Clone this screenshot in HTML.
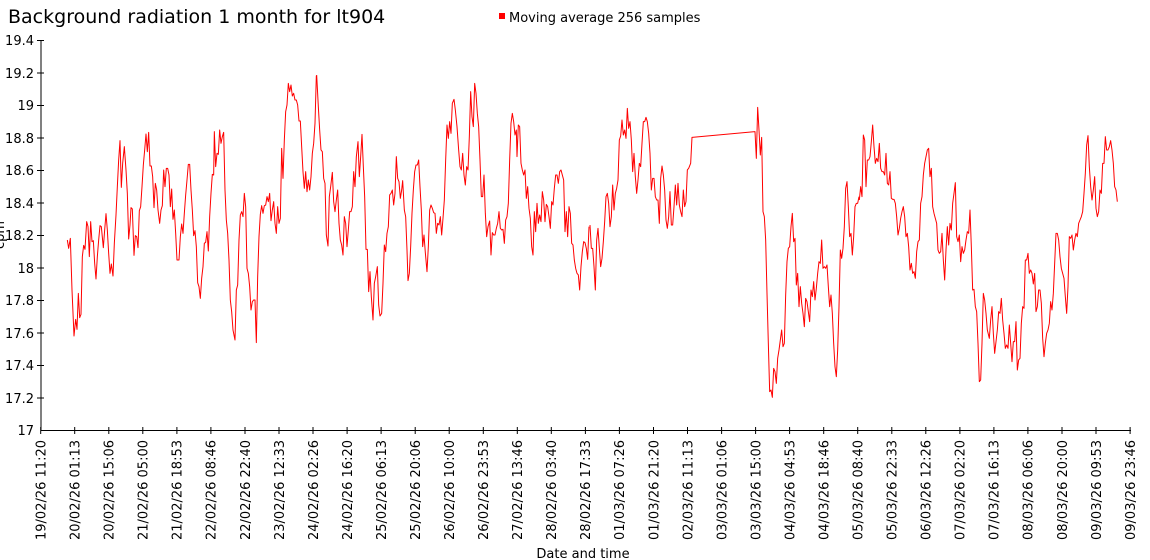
<!DOCTYPE html>
<html><head><meta charset="utf-8"><style>
html,body{margin:0;padding:0;background:#fff;}
svg{display:block;font-family:"DejaVu Sans","Liberation Sans",sans-serif;}
</style></head><body>
<svg width="1150" height="560" viewBox="0 0 1150 560" xmlns="http://www.w3.org/2000/svg">
<text x="8" y="23" font-size="19" fill="#000">Background radiation 1 month for lt904</text>
<rect x="499" y="13" width="6" height="6" fill="#f00"/>
<text x="509" y="22" font-size="13" fill="#000">Moving average 256 samples</text>
<text transform="translate(4,235) rotate(-90)" font-size="13" text-anchor="middle">cpm</text>
<g stroke="#000" stroke-width="1" fill="none">
<line x1="41" y1="40" x2="41" y2="430.5"/>
<line x1="40.5" y1="430.5" x2="1131" y2="430.5"/>
</g>
<g stroke="#000" stroke-width="1">
<line x1="37" x2="44" y1="40.5" y2="40.5"/><line x1="37" x2="44" y1="73" y2="73"/><line x1="37" x2="44" y1="105.5" y2="105.5"/><line x1="37" x2="44" y1="138" y2="138"/><line x1="37" x2="44" y1="170.5" y2="170.5"/><line x1="37" x2="44" y1="203" y2="203"/><line x1="37" x2="44" y1="235.5" y2="235.5"/><line x1="37" x2="44" y1="268" y2="268"/><line x1="37" x2="44" y1="300.5" y2="300.5"/><line x1="37" x2="44" y1="333" y2="333"/><line x1="37" x2="44" y1="365.5" y2="365.5"/><line x1="37" x2="44" y1="398" y2="398"/>
</g>
<g font-size="13" text-anchor="end" fill="#000">
<text x="34" y="45">19.4</text><text x="34" y="78">19.2</text><text x="34" y="110">19</text><text x="34" y="143">18.8</text><text x="34" y="175">18.6</text><text x="34" y="208">18.4</text><text x="34" y="240">18.2</text><text x="34" y="273">18</text><text x="34" y="305">17.8</text><text x="34" y="338">17.6</text><text x="34" y="370">17.4</text><text x="34" y="403">17.2</text><text x="34" y="435">17</text>
</g>
<g stroke="#000" stroke-width="1">
<line x1="40.7" x2="40.7" y1="427" y2="434"/><line x1="74.7" x2="74.7" y1="427" y2="434"/><line x1="108.8" x2="108.8" y1="427" y2="434"/><line x1="142.8" x2="142.8" y1="427" y2="434"/><line x1="176.9" x2="176.9" y1="427" y2="434"/><line x1="210.9" x2="210.9" y1="427" y2="434"/><line x1="245" x2="245" y1="427" y2="434"/><line x1="279" x2="279" y1="427" y2="434"/><line x1="313" x2="313" y1="427" y2="434"/><line x1="347.1" x2="347.1" y1="427" y2="434"/><line x1="381.1" x2="381.1" y1="427" y2="434"/><line x1="415.2" x2="415.2" y1="427" y2="434"/><line x1="449.2" x2="449.2" y1="427" y2="434"/><line x1="483.3" x2="483.3" y1="427" y2="434"/><line x1="517.3" x2="517.3" y1="427" y2="434"/><line x1="551.3" x2="551.3" y1="427" y2="434"/><line x1="585.4" x2="585.4" y1="427" y2="434"/><line x1="619.4" x2="619.4" y1="427" y2="434"/><line x1="653.5" x2="653.5" y1="427" y2="434"/><line x1="687.5" x2="687.5" y1="427" y2="434"/><line x1="721.6" x2="721.6" y1="427" y2="434"/><line x1="755.6" x2="755.6" y1="427" y2="434"/><line x1="789.6" x2="789.6" y1="427" y2="434"/><line x1="823.7" x2="823.7" y1="427" y2="434"/><line x1="857.7" x2="857.7" y1="427" y2="434"/><line x1="891.8" x2="891.8" y1="427" y2="434"/><line x1="925.8" x2="925.8" y1="427" y2="434"/><line x1="959.9" x2="959.9" y1="427" y2="434"/><line x1="993.9" x2="993.9" y1="427" y2="434"/><line x1="1027.9" x2="1027.9" y1="427" y2="434"/><line x1="1062" x2="1062" y1="427" y2="434"/><line x1="1096" x2="1096" y1="427" y2="434"/><line x1="1130.1" x2="1130.1" y1="427" y2="434"/>
</g>
<g font-size="13" text-anchor="end" fill="#000">
<text transform="translate(45.5,440) rotate(-90)">19/02/26 11:20</text>
<text transform="translate(79.5,440) rotate(-90)">20/02/26 01:13</text>
<text transform="translate(113.6,440) rotate(-90)">20/02/26 15:06</text>
<text transform="translate(147.6,440) rotate(-90)">21/02/26 05:00</text>
<text transform="translate(181.7,440) rotate(-90)">21/02/26 18:53</text>
<text transform="translate(215.7,440) rotate(-90)">22/02/26 08:46</text>
<text transform="translate(249.8,440) rotate(-90)">22/02/26 22:40</text>
<text transform="translate(283.8,440) rotate(-90)">23/02/26 12:33</text>
<text transform="translate(317.8,440) rotate(-90)">24/02/26 02:26</text>
<text transform="translate(351.9,440) rotate(-90)">24/02/26 16:20</text>
<text transform="translate(385.9,440) rotate(-90)">25/02/26 06:13</text>
<text transform="translate(420,440) rotate(-90)">25/02/26 20:06</text>
<text transform="translate(454,440) rotate(-90)">26/02/26 10:00</text>
<text transform="translate(488.1,440) rotate(-90)">26/02/26 23:53</text>
<text transform="translate(522.1,440) rotate(-90)">27/02/26 13:46</text>
<text transform="translate(556.1,440) rotate(-90)">28/02/26 03:40</text>
<text transform="translate(590.2,440) rotate(-90)">28/02/26 17:33</text>
<text transform="translate(624.2,440) rotate(-90)">01/03/26 07:26</text>
<text transform="translate(658.3,440) rotate(-90)">01/03/26 21:20</text>
<text transform="translate(692.3,440) rotate(-90)">02/03/26 11:13</text>
<text transform="translate(726.4,440) rotate(-90)">03/03/26 01:06</text>
<text transform="translate(760.4,440) rotate(-90)">03/03/26 15:00</text>
<text transform="translate(794.4,440) rotate(-90)">04/03/26 04:53</text>
<text transform="translate(828.5,440) rotate(-90)">04/03/26 18:46</text>
<text transform="translate(862.5,440) rotate(-90)">05/03/26 08:40</text>
<text transform="translate(896.6,440) rotate(-90)">05/03/26 22:33</text>
<text transform="translate(930.6,440) rotate(-90)">06/03/26 12:26</text>
<text transform="translate(964.7,440) rotate(-90)">07/03/26 02:20</text>
<text transform="translate(998.7,440) rotate(-90)">07/03/26 16:13</text>
<text transform="translate(1032.7,440) rotate(-90)">08/03/26 06:06</text>
<text transform="translate(1066.8,440) rotate(-90)">08/03/26 20:00</text>
<text transform="translate(1100.8,440) rotate(-90)">09/03/26 09:53</text>
<text transform="translate(1134.9,440) rotate(-90)">09/03/26 23:46</text>
</g>
<text x="583" y="558" font-size="13" text-anchor="middle">Date and time</text>
<g fill="none" stroke="#f00" stroke-width="1" stroke-linejoin="round">
<g transform="translate(40,60) scale(0.33333)">
<polyline vector-effect="non-scaling-stroke" points="82,540 86,565 91,535 96,690 102,828 107,778 111,808 115,700 119,773 123,763 127,590 131,556 135,568 140,485 144,500 148,590 152,485 156,545 160,542 164,610 168,657 172,590 176,540 180,497 184,500 190,563 194,510 198,461 202,510 206,580 210,640 214,612 219,648 223,550 228,465 232,380 236,300 240,242 244,382 248,310 253,260 258,330 262,400 266,537 270,495 273,443 277,447 282,586 286,527 290,530 294,563 298,452 302,440 306,380 310,315 314,270 318,222 322,275 326,217 330,318 334,318 338,350 342,443 346,370 350,390 354,450 359,490 363,450 367,437 371,330 375,380 379,325 383,325 387,345 391,440 395,387 399,478 403,450 407,520 411,600 417,600 421,530 425,492 429,520 433,460 437,405 441,360 445,313 449,313 453,390 457,450 461,527 465,512 469,560 473,668 477,680 481,715 485,655 489,620 493,550 497,547 501,515 505,573 509,470 513,400 517,343 521,345 523,215 527,320 531,280 535,283 539,210 543,250 547,230 551,217 555,390 559,480 563,520 567,600 571,720 575,755 579,810 585,840 589,690 593,675 597,540 601,465 605,455 609,470 613,400 617,440 621,625 625,640 629,680 633,750 637,725 641,720 645,720 649,848 653,650 657,530 661,463 665,437 669,460 673,437 677,435 681,410 685,425 689,400 693,482 697,450 701,425 705,490 709,520 713,440 717,490 721,475 725,265 729,355 733,240 737,155 741,135 745,70 749,95 753,75 757,108 761,100 765,120 769,120 773,135 777,183 781,183 785,260 789,335 793,385 797,335 801,395 805,360 809,390 813,350 817,280 821,250 825,190 829,47"/>
</g>
<g transform="translate(310,60) scale(0.33333)">
<polyline vector-effect="non-scaling-stroke" points="20,45 25,140 29,210 33,270 37,275 41,355 45,370 49,525 54,558 58,410 62,380 67,337 71,425 75,455 79,420 83,390 87,490 91,540 95,555 99,585 103,470 107,490 111,560 115,510 119,455 123,455 127,440 131,335 135,380 139,290 144,245 148,350 152,290 156,223 160,320 164,410 168,568 172,568 176,695 180,635 184,710 189,780 193,670 197,650 202,620 206,735 210,768 215,760 219,670 223,555 227,575 231,520 235,500 239,405 243,400 247,390 251,435 255,400 259,290 263,355 267,365 271,415 275,390 278,362 283,450 287,470 291,570 294,662 298,640 302,560 306,460 310,390 314,335 318,315 322,315 326,300 330,380 334,450 338,560 342,525 346,578 351,635 355,560 359,450 363,435 367,445 371,458 375,460 379,520 383,490 387,495 391,470 395,525 399,475 403,420 407,300 411,195 415,235 419,185 423,220 427,130 432,118 436,150 441,200 446,270 450,320 454,330 458,280 462,345 466,375 470,320 474,330 478,230 482,95 486,170 490,200 494,70 498,100 502,160 506,200 510,300 514,410 518,410 522,345 526,460 530,530 534,500 539,483 543,585 547,518 551,525 555,525 559,505 563,490 567,455 571,505 575,510 579,508 583,550 587,480 591,470 595,430 599,300 603,190 607,160 611,185 615,225 619,210 621,290 625,195 629,200 633,310 637,330 641,345 645,330 649,415 653,380 657,445 661,475 665,560 669,585 673,455 677,515 681,430 685,490 689,465 693,485 697,395 701,420 705,485 709,433 713,440 717,470 721,505 725,425 729,435 733,385 737,345 741,345 745,370 749,335 753,330 757,345 761,360 765,515 769,455 773,530 777,440 781,460 785,550 789,555 793,600 797,625 801,640 805,645 809,690 813,620 817,575 821,545 825,548 829,565 833,598 837,500"/>
</g>
<g transform="translate(580,60) scale(0.33333)">
<polyline vector-effect="non-scaling-stroke" points="30,495 34,565 38,565 42,620 46,690 50,540 54,505 58,565 62,620 66,595 70,545 74,485 78,410 82,400 86,430 90,500 94,470 98,375 102,450 106,400 110,385 114,360 118,240 122,228 126,180 130,225 134,210 138,235 142,145 146,205 150,185 154,240 158,335 162,280 166,350 170,400 174,360 178,310 182,320 186,250 190,185 194,185 198,172 202,185 206,220 210,280 214,390 218,355 222,355 226,410 230,420 234,420 238,490 242,355 246,318 250,345 254,390 258,480 262,505 266,470 270,395 274,495 278,495 282,440 286,375 290,435 294,370 298,435 302,455 306,470 310,390 314,440 318,425 322,330 326,325 332,310 336,232 525,215 529,295 533,142 537,210 541,285 545,232 549,455 553,470 557,540 561,700 565,850 569,995 573,990 577,1012 581,925 585,935 589,970 593,895 597,870 601,840 605,810 609,860 613,850 617,705 621,605 625,565 629,560 633,500 637,460 641,545 645,535 649,675 653,640 657,740 661,680 665,730 669,760 673,800 677,715 681,725 685,755 689,785 693,690 697,710 701,665 705,720 709,685 713,640 717,605 721,610 725,540 729,625 733,620 737,625 741,615 745,680 749,740 753,705 757,760 761,850 765,920 769,950 773,870 777,740 781,570 785,595 789,565 793,500 797,385 801,365 805,440 809,530 813,520 817,585 821,530 825,440 829,430 833,430 837,410"/>
</g>
<g transform="translate(850,60) scale(0.33333)">
<polyline vector-effect="non-scaling-stroke" points="28,420 32,380 36,410 40,225 44,240 48,380 52,300 56,300 60,290 64,245 68,195 72,260 76,310 80,295 84,305 88,250 92,325 96,335 100,335 104,345 108,280 112,370 116,375 120,335 124,415 128,418 132,418 136,430 140,470 144,525 148,505 152,475 156,455 160,440 164,470 168,530 172,520 176,560 180,630 184,610 188,640 192,635 196,655 200,575 204,545 208,540 212,430 216,410 220,345 224,310 228,290 232,270 236,265 240,350 244,325 248,440 252,460 256,475 260,490 264,570 268,580 272,575 276,520 280,600 284,660 288,570 292,500 296,555 300,490 304,510 308,430 312,400 316,368 320,530 324,545 328,525 332,605 336,560 340,580 344,570 348,540 352,515 356,520 360,450 364,560 368,690 372,688 376,740 380,755 384,850 388,965 392,960 396,850 400,700 404,720 408,760 412,810 418,835 422,780 426,740 430,820 434,880 438,845 442,810 446,755 450,760 454,715 458,780 462,820 466,865 470,855 474,865 478,795 482,850 486,905 490,845 494,845 498,785 502,930 506,900 510,895 514,790 518,740 522,745 526,600 530,600 534,580 538,640 542,630 546,640 550,672 554,640 558,755 562,740 566,690 570,690 574,730 578,835 582,890 586,850 590,820 594,810 598,790 602,725 606,750 610,700 614,610 618,520 622,520 626,540 630,590 634,625 638,640 642,655 646,710 650,760 654,680 658,530 662,535 666,525 670,570 674,540 678,520 682,530 686,490 690,480 694,470 698,455 702,400 706,340 710,255 714,227 718,320 722,380 726,420 730,390 734,350 738,445 742,470 746,455 750,390 754,400 758,310 762,310 766,230 770,270 774,270 778,260 782,242 786,270 790,310 794,380 798,390 802,425"/>
</g>
</g>
</svg>
</body></html>
